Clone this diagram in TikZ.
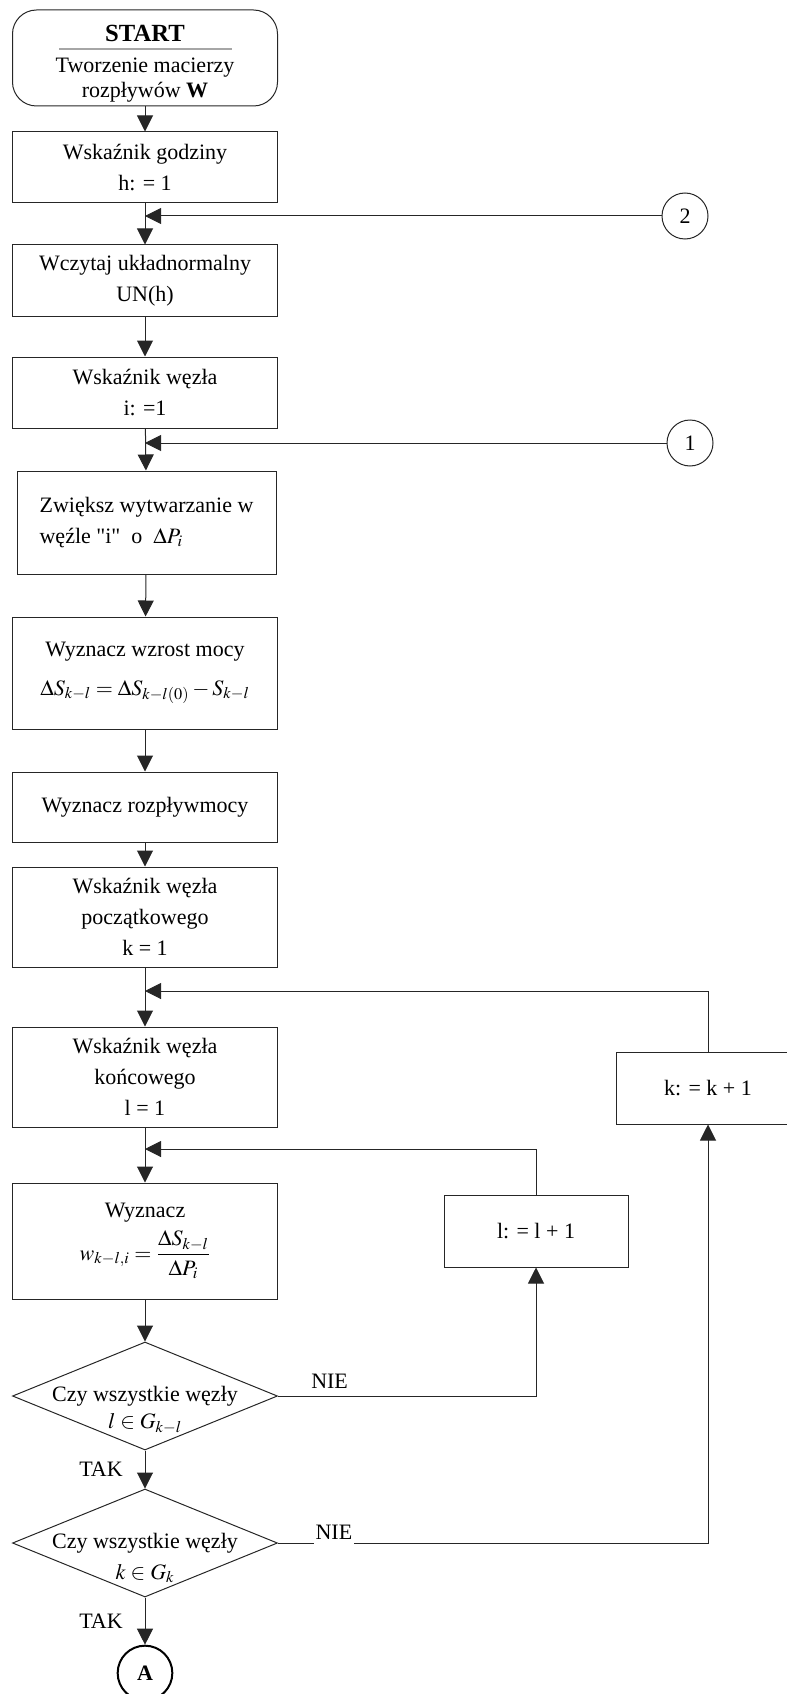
\documentclass[tikz,border=0pt]{standalone}
\usepackage{mathptmx}
\usepackage{fontspec}
\setmainfont{Liberation Serif}
\newfontfamily\quotefont{Liberation Serif}
\usetikzlibrary{arrows.meta,shapes.geometric}
\begin{document}
\begin{tikzpicture}[x=0.75pt,y=-0.75pt,line width=0.75pt,draw=black!85,>={Triangle[length=12pt,width=12pt]},
    every node/.style={font=\fontsize{16.5}{23}\selectfont,align=center},
    proc node/.style={rectangle,draw=black!85,minimum width=198.75pt,minimum height=53.25pt,inner sep=0pt},
    start node/.style={proc node,rounded corners=18pt,minimum height=72pt},
    dec node/.style={diamond,draw=black!85,minimum width=198.75pt,minimum height=81pt,inner sep=0pt},
    conn node/.style={circle,draw=black!85,minimum size=34.5pt,inner sep=0pt}]
        \useasboundingbox (0,0) rectangle (787,1694);
        \node [start node] (start) at (145,58) {};
        \node (starttit) at (145,33) {\fontsize{18.5}{20}\selectfont\bfseries START};
        \node [font=\fontsize{16.5}{19}\selectfont] (starttxt) at (145,80) {Tworzenie macierzy\\rozpływów \textbf{W}};
        \draw [gray!70,line width=1.5pt] (59,49) -- (232,49);
        \node [proc node] (h) at (145,167.5) {Wskaźnik godziny\\h: = 1};
        \node [conn node] (c2) at (685,216) {2};
        \node [proc node] (un) at (145,280.5) {Wczytaj układnormalny\\UN(h)};
        \node [proc node] (i) at (145,392.5) {Wskaźnik węzła\\i: =1};
        \node [conn node] (c1) at (690,443) {1};
        \node [proc node,minimum width=194.25pt,minimum height=77.25pt,align=left] (zw) at (146.5,522.5) {Zwiększ wytwarzanie w\\węźle {\quotefont "i"}\ \ o\ \ $\Delta P_i$};
        \node [proc node,minimum height=84pt] (ds) at (145,673) {Wyznacz wzrost mocy\\[6pt]$\Delta S_{k-l} = \Delta S_{k-l(0)} - S_{k-l}$};
        \node [proc node,minimum height=52.5pt] (roz) at (145,807) {Wyznacz rozpływmocy};
        \node [proc node,minimum height=75pt] (k1) at (145,917) {Wskaźnik węzła\\początkowego\\k = 1};
        \node [proc node,minimum height=75pt] (l1) at (145,1077) {Wskaźnik węzła\\końcowego\\l = 1};
        \node [proc node,minimum height=87pt] (w) at (145,1241) {Wyznacz\\[5pt]$w_{k-l,i} = \displaystyle\frac{\Delta S_{k-l}}{\Delta P_i}$};
        \node [dec node] (d1) at (145,1396) {};
        \node (d1txt) at (145,1410) {Czy wszystkie węzły\\[-3pt]$l \in G_{k-l}$};
        \node [dec node] (d2) at (145,1543) {};
        \node (d2txt) at (145,1558) {Czy wszystkie węzły\\$k \in G_k$};
        \node [proc node,minimum width=138pt,minimum height=54pt] (linc) at (536,1231) {l: = l + 1};
        \node [proc node,minimum width=138pt,minimum height=54pt] (kinc) at (708,1088) {k: = k + 1};
        \node [conn node,draw=black,line width=1.5pt,minimum size=41pt] (a) at (145,1673) {\bfseries A};
        \coordinate (kret) at (145,991);
        \coordinate (lret) at (145,1149);
        \path [->] (start) edge (h);
        \path [->] (h) edge (un);
        \path [->] (c2) edge (c2 -| h);
        \path [->] (un) edge (i);
        \path [->] (i) edge (zw);
        \path [->] (c1) edge (c1 -| i);
        \path [->] (zw) edge (ds);
        \path [->] (ds) edge (roz);
        \path [->] (roz) edge (k1);
        \path [->] (k1) edge (l1);
        \path [->] (l1) edge (w);
        \path [->] (w) edge (d1);
        \path [->] (d1) edge node [left=13pt] {TAK} (d2);
        \path [->] (d2) edge node [left=13pt] {TAK} (a);
        \draw [->] (d1.east) -| node [pos=0.1,above=2pt] {NIE} (linc);
        \draw [->] (linc) |- (lret);
        \draw [->] (d2.east) -| node [pos=0.065,fill=white,inner xsep=1pt,inner ysep=5pt,yshift=8pt] {NIE} (kinc);
        \draw [->] (kinc) |- (kret);
    \end{tikzpicture}
\end{document}
